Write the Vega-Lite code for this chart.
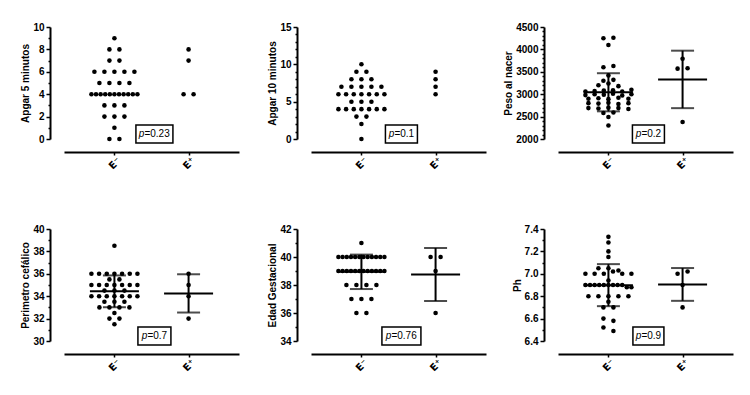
{
"$schema": "https://vega.github.io/schema/vega-lite/v6.json",
"padding": {"left": 20, "top": 22, "right": 5, "bottom": 5},
"background": "white",
"config": {
  "view": {"stroke": null},
  "font": "Liberation Sans",
  "axis": {"domainColor": "black", "domainWidth": 2, "tickColor": "black", "tickWidth": 1.5, "labelColor": "black", "labelFont": "Liberation Sans", "labelFontSize": 10, "labelFontWeight": "bold", "titleColor": "black", "titleFont": "Liberation Sans", "titleFontSize": 10, "titleFontWeight": "bold", "grid": false},
  "axisY": {"offset": 14, "labelPadding": 2, "titlePadding": 2},
  "axisX": {"offset": 13, "labelAngle": -45, "labelAlign": "center", "labelBaseline": "middle", "labelPadding": 8, "tickSize": 3, "labelFont": "DejaVu Sans", "labelFontSize": 10}
},
"datasets": {
"notes": [
{"panel":"a5","group":"E⁻","value":0,"p":"=0.23"},
{"panel":"a10","group":"E⁻","value":0,"p":"=0.1"},
{"panel":"peso","group":"E⁻","value":2000,"p":"=0.2"},
{"panel":"pc","group":"E⁻","value":30,"p":"=0.7"},
{"panel":"eg","group":"E⁻","value":34,"p":"=0.76"},
{"panel":"ph","group":"E⁻","value":6.4,"p":"=0.9"}
],
"pts": [
{"panel":"a5","group":"E⁻","value":9},{"panel":"a5","group":"E⁻","value":8},{"panel":"a5","group":"E⁻","value":8},{"panel":"a5","group":"E⁻","value":7},{"panel":"a5","group":"E⁻","value":7},
{"panel":"a5","group":"E⁻","value":6},{"panel":"a5","group":"E⁻","value":6},{"panel":"a5","group":"E⁻","value":6},{"panel":"a5","group":"E⁻","value":6},{"panel":"a5","group":"E⁻","value":6},
{"panel":"a5","group":"E⁻","value":5},{"panel":"a5","group":"E⁻","value":5},{"panel":"a5","group":"E⁻","value":5},{"panel":"a5","group":"E⁻","value":5},
{"panel":"a5","group":"E⁻","value":4},{"panel":"a5","group":"E⁻","value":4},{"panel":"a5","group":"E⁻","value":4},{"panel":"a5","group":"E⁻","value":4},{"panel":"a5","group":"E⁻","value":4},{"panel":"a5","group":"E⁻","value":4},{"panel":"a5","group":"E⁻","value":4},{"panel":"a5","group":"E⁻","value":4},{"panel":"a5","group":"E⁻","value":4},{"panel":"a5","group":"E⁻","value":4},{"panel":"a5","group":"E⁻","value":4},
{"panel":"a5","group":"E⁻","value":3},{"panel":"a5","group":"E⁻","value":3},{"panel":"a5","group":"E⁻","value":3},
{"panel":"a5","group":"E⁻","value":2},{"panel":"a5","group":"E⁻","value":2},{"panel":"a5","group":"E⁻","value":2},
{"panel":"a5","group":"E⁻","value":1},{"panel":"a5","group":"E⁻","value":0},{"panel":"a5","group":"E⁻","value":0},
{"panel":"a5","group":"E⁺","value":8},{"panel":"a5","group":"E⁺","value":7},{"panel":"a5","group":"E⁺","value":4},{"panel":"a5","group":"E⁺","value":4},
{"panel":"a10","group":"E⁻","value":10},{"panel":"a10","group":"E⁻","value":9},{"panel":"a10","group":"E⁻","value":9},
{"panel":"a10","group":"E⁻","value":8},{"panel":"a10","group":"E⁻","value":8},{"panel":"a10","group":"E⁻","value":8},
{"panel":"a10","group":"E⁻","value":7},{"panel":"a10","group":"E⁻","value":7},{"panel":"a10","group":"E⁻","value":7},{"panel":"a10","group":"E⁻","value":7},{"panel":"a10","group":"E⁻","value":7},
{"panel":"a10","group":"E⁻","value":6},{"panel":"a10","group":"E⁻","value":6},{"panel":"a10","group":"E⁻","value":6},{"panel":"a10","group":"E⁻","value":6},{"panel":"a10","group":"E⁻","value":6},{"panel":"a10","group":"E⁻","value":6},{"panel":"a10","group":"E⁻","value":6},
{"panel":"a10","group":"E⁻","value":5},{"panel":"a10","group":"E⁻","value":5},{"panel":"a10","group":"E⁻","value":5},
{"panel":"a10","group":"E⁻","value":4},{"panel":"a10","group":"E⁻","value":4},{"panel":"a10","group":"E⁻","value":4},{"panel":"a10","group":"E⁻","value":4},{"panel":"a10","group":"E⁻","value":4},{"panel":"a10","group":"E⁻","value":4},{"panel":"a10","group":"E⁻","value":4},
{"panel":"a10","group":"E⁻","value":3},{"panel":"a10","group":"E⁻","value":3},{"panel":"a10","group":"E⁻","value":2},{"panel":"a10","group":"E⁻","value":0},
{"panel":"a10","group":"E⁺","value":9},{"panel":"a10","group":"E⁺","value":8},{"panel":"a10","group":"E⁺","value":7},{"panel":"a10","group":"E⁺","value":6},
{"panel":"peso","group":"E⁻","value":4250},{"panel":"peso","group":"E⁻","value":4260},{"panel":"peso","group":"E⁻","value":4100},{"panel":"peso","group":"E⁻","value":3600},{"panel":"peso","group":"E⁻","value":3630},{"panel":"peso","group":"E⁻","value":3420},
{"panel":"peso","group":"E⁻","value":3300},{"panel":"peso","group":"E⁻","value":3320},{"panel":"peso","group":"E⁻","value":3200},{"panel":"peso","group":"E⁻","value":3240},{"panel":"peso","group":"E⁻","value":3180},
{"panel":"peso","group":"E⁻","value":3060},{"panel":"peso","group":"E⁻","value":3070},{"panel":"peso","group":"E⁻","value":3080},{"panel":"peso","group":"E⁻","value":3090},{"panel":"peso","group":"E⁻","value":3060},{"panel":"peso","group":"E⁻","value":3100},
{"panel":"peso","group":"E⁻","value":2980},{"panel":"peso","group":"E⁻","value":3000},{"panel":"peso","group":"E⁻","value":2990},{"panel":"peso","group":"E⁻","value":3010},{"panel":"peso","group":"E⁻","value":2970},{"panel":"peso","group":"E⁻","value":3000},
{"panel":"peso","group":"E⁻","value":2900},{"panel":"peso","group":"E⁻","value":2910},{"panel":"peso","group":"E⁻","value":2890},{"panel":"peso","group":"E⁻","value":2920},{"panel":"peso","group":"E⁻","value":2900},
{"panel":"peso","group":"E⁻","value":2800},{"panel":"peso","group":"E⁻","value":2790},{"panel":"peso","group":"E⁻","value":2810},{"panel":"peso","group":"E⁻","value":2780},{"panel":"peso","group":"E⁻","value":2800},
{"panel":"peso","group":"E⁻","value":2690},{"panel":"peso","group":"E⁻","value":2680},{"panel":"peso","group":"E⁻","value":2700},{"panel":"peso","group":"E⁻","value":2690},{"panel":"peso","group":"E⁻","value":2670},
{"panel":"peso","group":"E⁻","value":2580},{"panel":"peso","group":"E⁻","value":2590},{"panel":"peso","group":"E⁻","value":2490},{"panel":"peso","group":"E⁻","value":2300},
{"panel":"peso","group":"E⁺","value":3790},{"panel":"peso","group":"E⁺","value":3570},{"panel":"peso","group":"E⁺","value":3580},{"panel":"peso","group":"E⁺","value":2380},
{"panel":"pc","group":"E⁻","value":38.5},
{"panel":"pc","group":"E⁻","value":36},{"panel":"pc","group":"E⁻","value":36},{"panel":"pc","group":"E⁻","value":36},{"panel":"pc","group":"E⁻","value":36},{"panel":"pc","group":"E⁻","value":36},{"panel":"pc","group":"E⁻","value":36},{"panel":"pc","group":"E⁻","value":36},
{"panel":"pc","group":"E⁻","value":35.5},{"panel":"pc","group":"E⁻","value":35.5},
{"panel":"pc","group":"E⁻","value":35},{"panel":"pc","group":"E⁻","value":35},{"panel":"pc","group":"E⁻","value":35},{"panel":"pc","group":"E⁻","value":35},{"panel":"pc","group":"E⁻","value":35},{"panel":"pc","group":"E⁻","value":35},{"panel":"pc","group":"E⁻","value":35},
{"panel":"pc","group":"E⁻","value":34.5},{"panel":"pc","group":"E⁻","value":34.5},{"panel":"pc","group":"E⁻","value":34.5},
{"panel":"pc","group":"E⁻","value":34},{"panel":"pc","group":"E⁻","value":34},{"panel":"pc","group":"E⁻","value":34},{"panel":"pc","group":"E⁻","value":34},{"panel":"pc","group":"E⁻","value":34},{"panel":"pc","group":"E⁻","value":34},{"panel":"pc","group":"E⁻","value":34},
{"panel":"pc","group":"E⁻","value":33.5},{"panel":"pc","group":"E⁻","value":33.5},{"panel":"pc","group":"E⁻","value":33.5},
{"panel":"pc","group":"E⁻","value":33},{"panel":"pc","group":"E⁻","value":33},{"panel":"pc","group":"E⁻","value":33},{"panel":"pc","group":"E⁻","value":33},
{"panel":"pc","group":"E⁻","value":32.5},{"panel":"pc","group":"E⁻","value":32},{"panel":"pc","group":"E⁻","value":32},{"panel":"pc","group":"E⁻","value":31.5},
{"panel":"pc","group":"E⁺","value":36},{"panel":"pc","group":"E⁺","value":35},{"panel":"pc","group":"E⁺","value":34},{"panel":"pc","group":"E⁺","value":32},
{"panel":"eg","group":"E⁻","value":41},
{"panel":"eg","group":"E⁻","value":40},{"panel":"eg","group":"E⁻","value":40},{"panel":"eg","group":"E⁻","value":40},{"panel":"eg","group":"E⁻","value":40},{"panel":"eg","group":"E⁻","value":40},{"panel":"eg","group":"E⁻","value":40},{"panel":"eg","group":"E⁻","value":40},{"panel":"eg","group":"E⁻","value":40},{"panel":"eg","group":"E⁻","value":40},{"panel":"eg","group":"E⁻","value":40},{"panel":"eg","group":"E⁻","value":40},{"panel":"eg","group":"E⁻","value":40},
{"panel":"eg","group":"E⁻","value":39},{"panel":"eg","group":"E⁻","value":39},{"panel":"eg","group":"E⁻","value":39},{"panel":"eg","group":"E⁻","value":39},{"panel":"eg","group":"E⁻","value":39},{"panel":"eg","group":"E⁻","value":39},{"panel":"eg","group":"E⁻","value":39},{"panel":"eg","group":"E⁻","value":39},{"panel":"eg","group":"E⁻","value":39},{"panel":"eg","group":"E⁻","value":39},{"panel":"eg","group":"E⁻","value":39},{"panel":"eg","group":"E⁻","value":39},
{"panel":"eg","group":"E⁻","value":38},{"panel":"eg","group":"E⁻","value":38},{"panel":"eg","group":"E⁻","value":38},{"panel":"eg","group":"E⁻","value":38},
{"panel":"eg","group":"E⁻","value":37},{"panel":"eg","group":"E⁻","value":37},{"panel":"eg","group":"E⁻","value":37},
{"panel":"eg","group":"E⁻","value":36},{"panel":"eg","group":"E⁻","value":36},
{"panel":"eg","group":"E⁺","value":40},{"panel":"eg","group":"E⁺","value":40},{"panel":"eg","group":"E⁺","value":39},{"panel":"eg","group":"E⁺","value":36},
{"panel":"ph","group":"E⁻","value":7.33},{"panel":"ph","group":"E⁻","value":7.28},{"panel":"ph","group":"E⁻","value":7.2},{"panel":"ph","group":"E⁻","value":7.15},
{"panel":"ph","group":"E⁻","value":7.05},{"panel":"ph","group":"E⁻","value":7.05},{"panel":"ph","group":"E⁻","value":7.03},
{"panel":"ph","group":"E⁻","value":7.0},{"panel":"ph","group":"E⁻","value":7.0},{"panel":"ph","group":"E⁻","value":7.0},{"panel":"ph","group":"E⁻","value":7.02},{"panel":"ph","group":"E⁻","value":7.0},{"panel":"ph","group":"E⁻","value":7.0},
{"panel":"ph","group":"E⁻","value":6.94},
{"panel":"ph","group":"E⁻","value":6.9},{"panel":"ph","group":"E⁻","value":6.9},{"panel":"ph","group":"E⁻","value":6.9},{"panel":"ph","group":"E⁻","value":6.9},{"panel":"ph","group":"E⁻","value":6.9},{"panel":"ph","group":"E⁻","value":6.9},{"panel":"ph","group":"E⁻","value":6.9},{"panel":"ph","group":"E⁻","value":6.9},{"panel":"ph","group":"E⁻","value":6.9},
{"panel":"ph","group":"E⁻","value":6.88},{"panel":"ph","group":"E⁻","value":6.88},
{"panel":"ph","group":"E⁻","value":6.8},{"panel":"ph","group":"E⁻","value":6.8},{"panel":"ph","group":"E⁻","value":6.8},{"panel":"ph","group":"E⁻","value":6.8},{"panel":"ph","group":"E⁻","value":6.8},
{"panel":"ph","group":"E⁻","value":6.75},{"panel":"ph","group":"E⁻","value":6.7},{"panel":"ph","group":"E⁻","value":6.7},
{"panel":"ph","group":"E⁻","value":6.6},{"panel":"ph","group":"E⁻","value":6.58},{"panel":"ph","group":"E⁻","value":6.52},{"panel":"ph","group":"E⁻","value":6.49},
{"panel":"ph","group":"E⁺","value":7.0},{"panel":"ph","group":"E⁺","value":7.02},{"panel":"ph","group":"E⁺","value":6.9},{"panel":"ph","group":"E⁺","value":6.7}
]},
"data": {"name": "pts"},
"transform": [
  {"calculate": "datum.panel == 'peso' ? 100 : (datum.panel == 'ph' ? 0.05 : 0.5)", "as": "step"},
  {"calculate": "round(datum.value / datum.step)", "as": "rowkey"},
  {"window": [{"op": "row_number", "as": "r"}], "groupby": ["panel", "group", "rowkey"]},
  {"joinaggregate": [{"op": "count", "as": "n"}], "groupby": ["panel", "group", "rowkey"]},
  {"calculate": "(datum.r - (datum.n + 1) / 2) * min(10, 46 / max(datum.n - 1, 1))", "as": "off"}
],
"columns": 3,
"bounds": "flush",
"spacing": {"row": 90, "column": 72},
"concat": [
{
 "width": 175, "height": 112,
 "transform": [{"filter": "datum.panel == 'a5'"}],
 "encoding": {
  "x": {"field": "group", "type": "nominal", "title": null, "scale": {"type": "point", "domain": ["E⁻", "E⁺"], "padding": 0.68}},
  "y": {"field": "value", "type": "quantitative", "title": "Apgar 5 minutos", "scale": {"domain": [0, 10], "nice": false, "zero": false},
        "axis": {"values": [0,1,2,3,4,5,6,7,8,9,10], "labelExpr": "datum.value % 2 == 0 ? datum.label : ''", "tickSize": {"condition": {"test": "datum.value % 2 != 0", "value": 2}, "value": 4}}}
 },
 "layer": [
  {"mark": {"type": "circle", "size": 21, "color": "black", "opacity": 1}, "encoding": {"xOffset": {"field": "off", "type": "quantitative", "scale": {"domain": [-23, 23], "range": [-23, 23]}}}},
  {"data": {"name": "notes"}, "transform": [{"filter": "datum.panel == 'a5'"}], "mark": {"type": "point", "shape": "M-1,-0.486H1V0.486H-1Z", "size": 1369, "filled": true, "fill": "white", "stroke": "black", "strokeWidth": 1.5, "opacity": 1, "xOffset": 40, "yOffset": -5}},
  {"data": {"name": "notes"}, "transform": [{"filter": "datum.panel == 'a5'"}], "mark": {"type": "text", "text": "p", "fontStyle": "italic", "fontSize": 10, "align": "right", "baseline": "middle", "color": "black", "xOffset": 30, "yOffset": -5}},
  {"data": {"name": "notes"}, "transform": [{"filter": "datum.panel == 'a5'"}], "mark": {"type": "text", "fontSize": 10, "align": "left", "baseline": "middle", "color": "black", "xOffset": 30, "yOffset": -5}, "encoding": {"text": {"field": "p", "type": "nominal"}}}
 ]
},
{
 "width": 175, "height": 112,
 "transform": [{"filter": "datum.panel == 'a10'"}],
 "encoding": {
  "x": {"field": "group", "type": "nominal", "title": null, "scale": {"type": "point", "domain": ["E⁻", "E⁺"], "padding": 0.68}},
  "y": {"field": "value", "type": "quantitative", "title": "Apgar 10 minutos", "scale": {"domain": [0, 15], "nice": false, "zero": false},
        "axis": {"values": [0,1,2,3,4,5,6,7,8,9,10,11,12,13,14,15], "labelExpr": "datum.value % 5 == 0 ? datum.label : ''", "tickSize": {"condition": {"test": "datum.value % 5 != 0", "value": 2}, "value": 4}}}
 },
 "layer": [
  {"mark": {"type": "circle", "size": 21, "color": "black", "opacity": 1}, "encoding": {"xOffset": {"field": "off", "type": "quantitative", "scale": {"domain": [-23, 23], "range": [-23, 23]}}}},
  {"data": {"name": "notes"}, "transform": [{"filter": "datum.panel == 'a10'"}], "mark": {"type": "point", "shape": "M-1,-0.5625H1V0.5625H-1Z", "size": 1024, "filled": true, "fill": "white", "stroke": "black", "strokeWidth": 1.5, "opacity": 1, "xOffset": 40, "yOffset": -5}},
  {"data": {"name": "notes"}, "transform": [{"filter": "datum.panel == 'a10'"}], "mark": {"type": "text", "text": "p", "fontStyle": "italic", "fontSize": 10, "align": "right", "baseline": "middle", "color": "black", "xOffset": 33, "yOffset": -5}},
  {"data": {"name": "notes"}, "transform": [{"filter": "datum.panel == 'a10'"}], "mark": {"type": "text", "fontSize": 10, "align": "left", "baseline": "middle", "color": "black", "xOffset": 33, "yOffset": -5}, "encoding": {"text": {"field": "p", "type": "nominal"}}}
 ]
},
{
 "width": 175, "height": 112,
 "transform": [{"filter": "datum.panel == 'peso'"}],
 "encoding": {
  "x": {"field": "group", "type": "nominal", "title": null, "scale": {"type": "point", "domain": ["E⁻", "E⁺"], "padding": 0.68}},
  "y": {"field": "value", "type": "quantitative", "title": "Peso al nacer", "scale": {"domain": [2000, 4500], "nice": false, "zero": false},
        "axis": {"format": "d", "values": [2000,2100,2200,2300,2400,2500,2600,2700,2800,2900,3000,3100,3200,3300,3400,3500,3600,3700,3800,3900,4000,4100,4200,4300,4400,4500], "labelExpr": "datum.value % 500 == 0 ? datum.label : ''", "tickSize": {"condition": {"test": "datum.value % 500 != 0", "value": 2}, "value": 4}}}
 },
 "layer": [
  {"mark": {"type": "circle", "size": 21, "color": "black", "opacity": 1}, "encoding": {"xOffset": {"field": "off", "type": "quantitative", "scale": {"domain": [-23, 23], "range": [-23, 23]}}}},
  {"mark": {"type": "errorbar", "extent": "stdev", "thickness": 2, "color": "black", "ticks": {"size": 23}}},
  {"mark": {"type": "tick", "size": 49, "thickness": 2, "color": "black"}, "encoding": {"y": {"aggregate": "mean", "field": "value", "type": "quantitative", "title": "Peso al nacer"}}},
  {"data": {"name": "notes"}, "transform": [{"filter": "datum.panel == 'peso'"}], "mark": {"type": "point", "shape": "M-1,-0.5625H1V0.5625H-1Z", "size": 1024, "filled": true, "fill": "white", "stroke": "black", "strokeWidth": 1.5, "opacity": 1, "xOffset": 40, "yOffset": -5}},
  {"data": {"name": "notes"}, "transform": [{"filter": "datum.panel == 'peso'"}], "mark": {"type": "text", "text": "p", "fontStyle": "italic", "fontSize": 10, "align": "right", "baseline": "middle", "color": "black", "xOffset": 33, "yOffset": -5}},
  {"data": {"name": "notes"}, "transform": [{"filter": "datum.panel == 'peso'"}], "mark": {"type": "text", "fontSize": 10, "align": "left", "baseline": "middle", "color": "black", "xOffset": 33, "yOffset": -5}, "encoding": {"text": {"field": "p", "type": "nominal"}}}
 ]
},
{
 "width": 175, "height": 112,
 "transform": [{"filter": "datum.panel == 'pc'"}],
 "encoding": {
  "x": {"field": "group", "type": "nominal", "title": null, "scale": {"type": "point", "domain": ["E⁻", "E⁺"], "padding": 0.68}},
  "y": {"field": "value", "type": "quantitative", "title": "Perimetro cefálico", "scale": {"domain": [30, 40], "nice": false, "zero": false},
        "axis": {"values": [30,31,32,33,34,35,36,37,38,39,40], "labelExpr": "datum.value % 2 == 0 ? datum.label : ''", "tickSize": {"condition": {"test": "datum.value % 2 != 0", "value": 2}, "value": 4}}}
 },
 "layer": [
  {"mark": {"type": "circle", "size": 21, "color": "black", "opacity": 1}, "encoding": {"xOffset": {"field": "off", "type": "quantitative", "scale": {"domain": [-23, 23], "range": [-23, 23]}}}},
  {"mark": {"type": "errorbar", "extent": "stdev", "thickness": 2, "color": "black", "ticks": {"size": 23}}},
  {"mark": {"type": "tick", "size": 49, "thickness": 2, "color": "black"}, "encoding": {"y": {"aggregate": "mean", "field": "value", "type": "quantitative", "title": "Perimetro cefálico"}}},
  {"data": {"name": "notes"}, "transform": [{"filter": "datum.panel == 'pc'"}], "mark": {"type": "point", "shape": "M-1,-0.545H1V0.545H-1Z", "size": 1089, "filled": true, "fill": "white", "stroke": "black", "strokeWidth": 1.5, "opacity": 1, "xOffset": 40, "yOffset": -5}},
  {"data": {"name": "notes"}, "transform": [{"filter": "datum.panel == 'pc'"}], "mark": {"type": "text", "text": "p", "fontStyle": "italic", "fontSize": 10, "align": "right", "baseline": "middle", "color": "black", "xOffset": 33, "yOffset": -5}},
  {"data": {"name": "notes"}, "transform": [{"filter": "datum.panel == 'pc'"}], "mark": {"type": "text", "fontSize": 10, "align": "left", "baseline": "middle", "color": "black", "xOffset": 33, "yOffset": -5}, "encoding": {"text": {"field": "p", "type": "nominal"}}}
 ]
},
{
 "width": 175, "height": 112,
 "transform": [{"filter": "datum.panel == 'eg'"}],
 "encoding": {
  "x": {"field": "group", "type": "nominal", "title": null, "scale": {"type": "point", "domain": ["E⁻", "E⁺"], "padding": 0.68}},
  "y": {"field": "value", "type": "quantitative", "title": "Edad Gestacional", "scale": {"domain": [34, 42], "nice": false, "zero": false},
        "axis": {"values": [34,35,36,37,38,39,40,41,42], "labelExpr": "datum.value % 2 == 0 ? datum.label : ''", "tickSize": {"condition": {"test": "datum.value % 2 != 0", "value": 2}, "value": 4}}}
 },
 "layer": [
  {"mark": {"type": "circle", "size": 21, "color": "black", "opacity": 1}, "encoding": {"xOffset": {"field": "off", "type": "quantitative", "scale": {"domain": [-23, 23], "range": [-23, 23]}}}},
  {"mark": {"type": "errorbar", "extent": "stdev", "thickness": 2, "color": "black", "ticks": {"size": 23}}},
  {"mark": {"type": "tick", "size": 49, "thickness": 2, "color": "black"}, "encoding": {"y": {"aggregate": "mean", "field": "value", "type": "quantitative", "title": "Edad Gestacional"}}},
  {"data": {"name": "notes"}, "transform": [{"filter": "datum.panel == 'eg'"}], "mark": {"type": "point", "shape": "M-1,-0.4615H1V0.4615H-1Z", "size": 1521, "filled": true, "fill": "white", "stroke": "black", "strokeWidth": 1.5, "opacity": 1, "xOffset": 40, "yOffset": -5}},
  {"data": {"name": "notes"}, "transform": [{"filter": "datum.panel == 'eg'"}], "mark": {"type": "text", "text": "p", "fontStyle": "italic", "fontSize": 10, "align": "right", "baseline": "middle", "color": "black", "xOffset": 30, "yOffset": -5}},
  {"data": {"name": "notes"}, "transform": [{"filter": "datum.panel == 'eg'"}], "mark": {"type": "text", "fontSize": 10, "align": "left", "baseline": "middle", "color": "black", "xOffset": 30, "yOffset": -5}, "encoding": {"text": {"field": "p", "type": "nominal"}}}
 ]
},
{
 "width": 175, "height": 112,
 "transform": [{"filter": "datum.panel == 'ph'"}],
 "encoding": {
  "x": {"field": "group", "type": "nominal", "title": null, "scale": {"type": "point", "domain": ["E⁻", "E⁺"], "padding": 0.68}},
  "y": {"field": "value", "type": "quantitative", "title": "Ph", "scale": {"domain": [6.4, 7.4], "nice": false, "zero": false},
        "axis": {"format": ".1f", "values": [6.4,6.5,6.6,6.7,6.8,6.9,7.0,7.1,7.2,7.3,7.4], "labelExpr": "round(datum.value * 10) % 2 == 0 ? datum.label : ''", "tickSize": {"condition": {"test": "round(datum.value * 10) % 2 != 0", "value": 2}, "value": 4}}}
 },
 "layer": [
  {"mark": {"type": "circle", "size": 21, "color": "black", "opacity": 1}, "encoding": {"xOffset": {"field": "off", "type": "quantitative", "scale": {"domain": [-23, 23], "range": [-23, 23]}}}},
  {"mark": {"type": "errorbar", "extent": "stdev", "thickness": 2, "color": "black", "ticks": {"size": 23}}},
  {"mark": {"type": "tick", "size": 49, "thickness": 2, "color": "black"}, "encoding": {"y": {"aggregate": "mean", "field": "value", "type": "quantitative", "title": "Ph"}}},
  {"data": {"name": "notes"}, "transform": [{"filter": "datum.panel == 'ph'"}], "mark": {"type": "point", "shape": "M-1,-0.58H1V0.58H-1Z", "size": 961, "filled": true, "fill": "white", "stroke": "black", "strokeWidth": 1.5, "opacity": 1, "xOffset": 40, "yOffset": -5}},
  {"data": {"name": "notes"}, "transform": [{"filter": "datum.panel == 'ph'"}], "mark": {"type": "text", "text": "p", "fontStyle": "italic", "fontSize": 10, "align": "right", "baseline": "middle", "color": "black", "xOffset": 33, "yOffset": -5}},
  {"data": {"name": "notes"}, "transform": [{"filter": "datum.panel == 'ph'"}], "mark": {"type": "text", "fontSize": 10, "align": "left", "baseline": "middle", "color": "black", "xOffset": 33, "yOffset": -5}, "encoding": {"text": {"field": "p", "type": "nominal"}}}
 ]
}
]
}
